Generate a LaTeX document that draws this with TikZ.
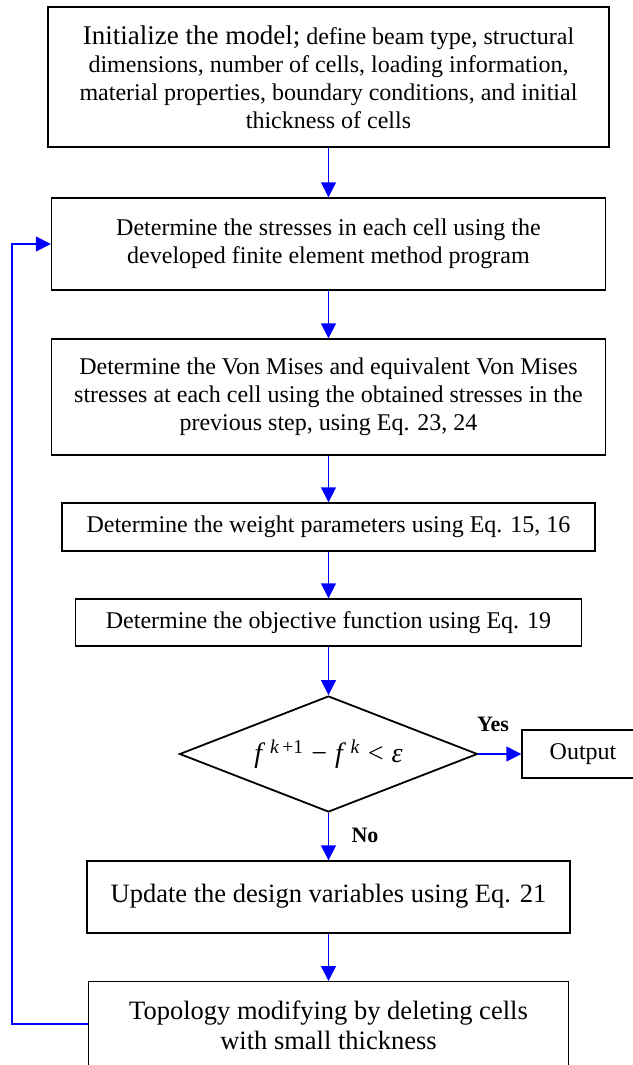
\documentclass[tikz,border=0pt]{standalone}
\usepackage{fontspec}
\setmainfont{Liberation Serif}
\usetikzlibrary{shapes.geometric,arrows.meta}
\tikzset{
  box/.style={draw=black, line width=1.4pt, align=center, inner sep=2pt,
    font=\fontsize{24}{28}\selectfont},
  bigbox/.style={box, font=\fontsize{26.5}{30}\selectfont},
  decision/.style={draw=black, line width=1.8pt, shape=diamond, aspect=2.57,
    minimum width=298pt, minimum height=116pt, inner sep=0pt,
    font=\fontsize{28}{30}\selectfont},
  flow/.style={draw={rgb,255:red,0;green,0;blue,255}, line width=1.5pt,
    -{Triangle[length=15pt,width=15pt]}},
  lbl/.style={font=\fontsize{22}{26}\bfseries\selectfont, inner sep=0pt}
}
\begin{document}
\begin{tikzpicture}[x=1pt,y=-1pt]
\useasboundingbox (0,0) rectangle (632,1065);
\node[box, minimum width=561pt, minimum height=140pt] (b1) at (328.5,77)
  {{\fontsize{27}{28}\selectfont Initialize the model;} define beam type, structural\\
   dimensions, number of cells, loading information,\\
   material properties, boundary conditions, and initial\\
   thickness of cells};
\node[box, minimum width=554pt, minimum height=92pt] (b2) at (328.5,244)
  {Determine the stresses in each cell using the\\
   developed finite element method program};
\node[box, minimum width=554pt, minimum height=116pt] (b3) at (328.5,397)
  {Determine the Von Mises and equivalent Von Mises\\
   stresses at each cell using the obtained stresses in the\\
   previous step, using Eq. 23, 24};
\node[box, minimum width=533pt, minimum height=48pt] (b4) at (328.5,527)
  {Determine the weight parameters using Eq. 15, 16};
\node[box, minimum width=506pt, minimum height=47pt, font=\fontsize{24}{28}\selectfont] (b5) at (328.5,622.5)
  {Determine the objective function using Eq. 19};
\node[decision] (dec) at (328.5,754)
  {\textit{f}\,\textsuperscript{\textit{k}\,+1}\;−\;\textit{f}\,\textsuperscript{\textit{k}}\;<\;\textit{ε}};
\node[box, minimum width=122pt, minimum height=48pt] (out) at (583,754) {Output};
\node[bigbox, minimum width=483pt, minimum height=72pt] (b6) at (328.5,897)
  {\raisebox{7pt}{Update the design variables using Eq. 21}};
\node[bigbox, minimum width=480pt, minimum height=88pt, anchor=north] (b7) at (328.5,981)
  {Topology modifying by deleting cells\\with small thickness};
\node[lbl] (yes) at (493,724) {Yes};
\node[lbl] (no) at (365,835) {No};
\coordinate (fb) at (12,1024);
\draw[flow] (b1.south) -- (b2.north);
\draw[flow] (b2.south) -- (b3.north);
\draw[flow] (b3.south) -- (b4.north);
\draw[flow] (b4.south) -- (b5.north);
\draw[flow] (b5.south) -- (dec.north);
\draw[flow] (dec.east) -- (out.west);
\draw[flow] (dec.south) -- (b6.north);
\draw[flow] (b6.south) -- (b7.north);
\draw[flow] (b7.west |- fb) -- (fb) |- (b2.west);
\end{tikzpicture}
\end{document}
